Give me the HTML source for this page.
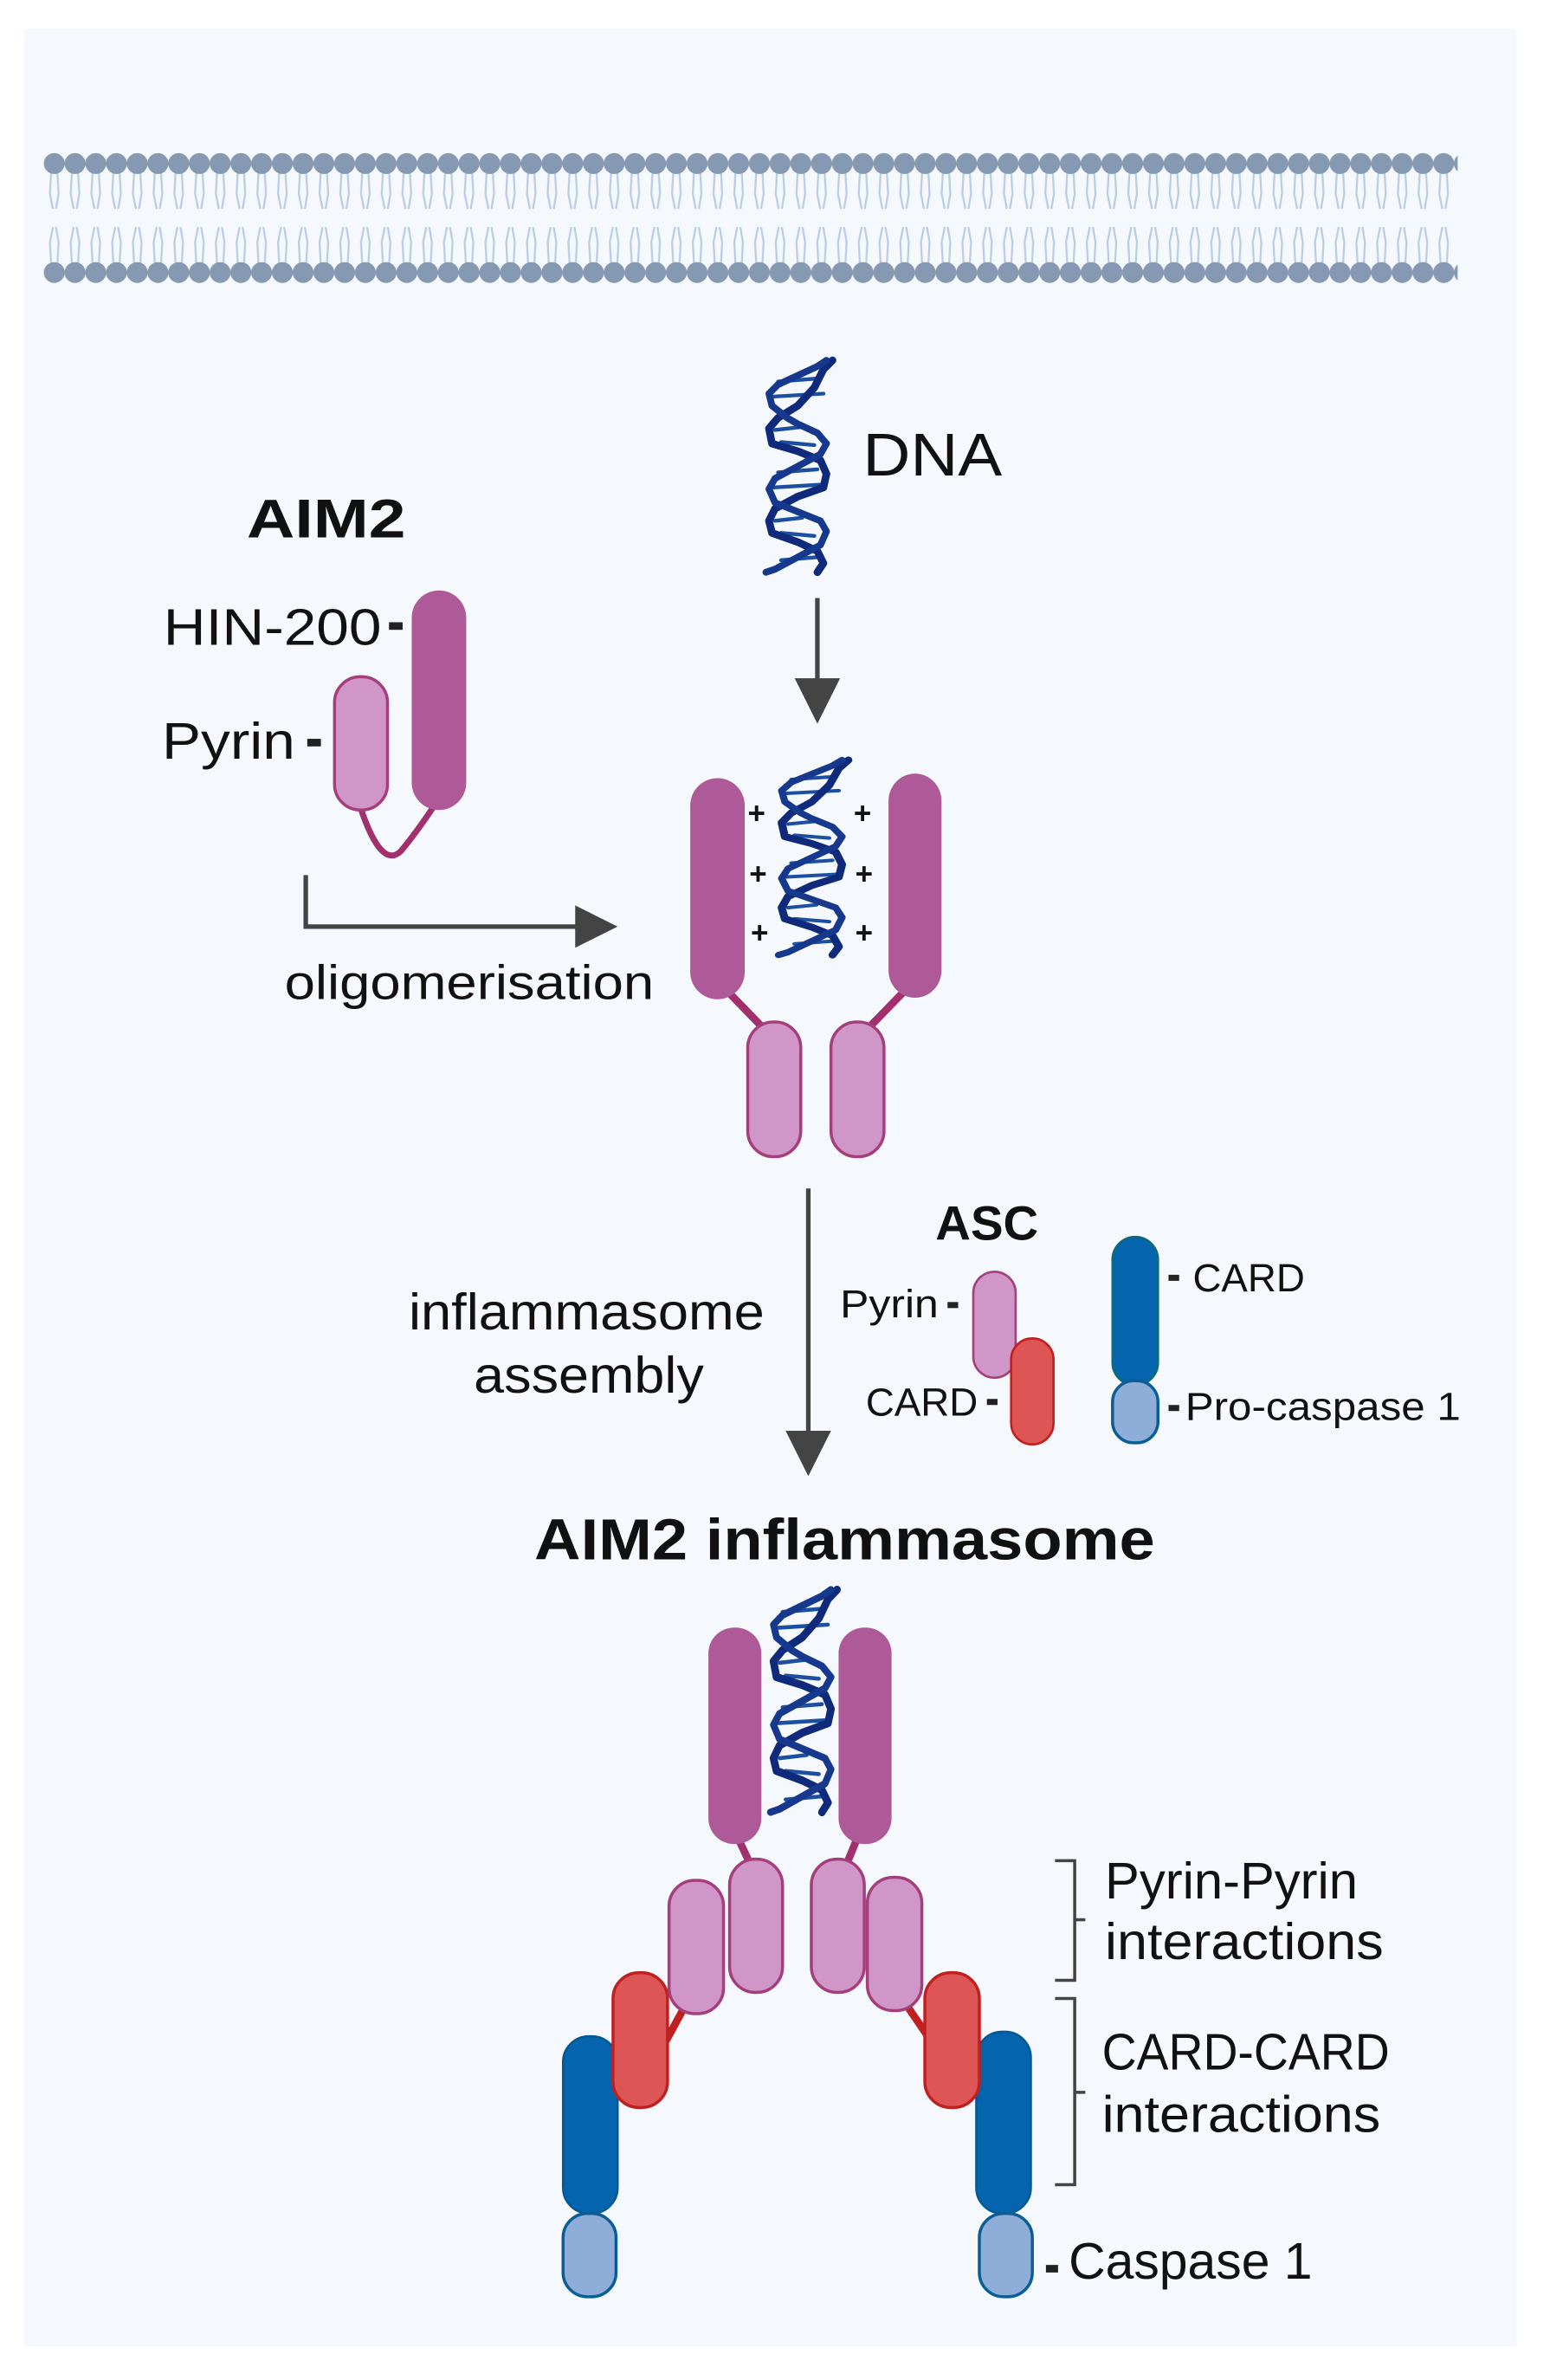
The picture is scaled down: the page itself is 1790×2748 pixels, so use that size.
<!DOCTYPE html>
<html><head><meta charset="utf-8"><style>
html,body{margin:0;padding:0;background:#fff}
svg{display:block}
text{font-family:"Liberation Sans",sans-serif;fill:#111}
</style></head><body>
<svg width="1790" height="2748" viewBox="0 0 1024 1572" preserveAspectRatio="none" xmlns="http://www.w3.org/2000/svg">
<defs>
<pattern id="mem" x="29" y="0" width="13.7" height="1572" patternUnits="userSpaceOnUse">
<g stroke="#b9cde6" stroke-width="1.3" fill="none">
<path d="M5,110 L4,128 L6,138 M8.7,110 L9.7,128 L8,138"/>
<path d="M5,178 L4,160 L6,150 M8.7,178 L9.7,160 L8,150"/>
</g>
<circle cx="6.85" cy="108" r="6.9" fill="#8599b2"/>
<circle cx="6.85" cy="180" r="6.9" fill="#8599b2"/>
</pattern>
<g id="dna">
<g fill="none" stroke-linecap="round" stroke-linejoin="round">
<g stroke="#1d4fa0" stroke-width="2.5">
<line x1="40" y1="12" x2="14" y2="14"/><line x1="44" y1="22" x2="10" y2="24"/>
<line x1="30" y1="44" x2="12" y2="46"/><line x1="38" y1="56" x2="16" y2="54"/>
<line x1="40" y1="72" x2="14" y2="74"/><line x1="44" y1="82" x2="10" y2="84"/>
<line x1="30" y1="104" x2="12" y2="106"/><line x1="38" y1="116" x2="16" y2="114"/>
<line x1="40" y1="130" x2="16" y2="132"/>
</g>
<polyline stroke="#0f2a7a" stroke-width="5" points="50,0 44,6 38,18 27,30 14,38 8,45 10,55 27,60 42,66 46,75 44,84 27,90 12,98 8,106 10,114 27,120 40,126 44,134 40,140"/>
<polyline stroke="#16398e" stroke-width="4.5" points="46,0 40,4 27,10 14,16 8,22 10,30 20,38 27,42 40,48 46,55 42,62 27,70 12,78 8,85 12,94 27,100 42,106 46,113 42,122 27,130 12,138 6,140"/>
</g>
</g>
</defs>
<rect x="0" y="0" width="1024" height="1572" fill="#fff"/>
<rect x="16" y="19" width="986" height="1531" fill="#f5f8fc"/>
<rect x="29" y="95" width="934" height="100" fill="url(#mem)"/>

<use href="#dna" transform="translate(500,238)"/>
<text x="570" y="314" font-size="40" textLength="92" lengthAdjust="spacingAndGlyphs">DNA</text>
<line x1="540" y1="395" x2="540" y2="450" stroke="#444" stroke-width="3"/>
<polygon points="525,448 555,448 540,478" fill="#444"/>

<text x="163" y="355" font-size="36" font-weight="bold" textLength="105" lengthAdjust="spacingAndGlyphs">AIM2</text>
<text x="108" y="426" font-size="34" textLength="144" lengthAdjust="spacingAndGlyphs">HIN-200</text>
<rect x="257" y="411" width="9" height="5" fill="#222"/>
<text x="107" y="501" font-size="34" textLength="88" lengthAdjust="spacingAndGlyphs">Pyrin</text>
<rect x="203" y="488" width="9" height="5" fill="#222"/>
<path d="M238,533 Q252,575 265,562 Q275,550 287,532" fill="none" stroke="#a3306e" stroke-width="4"/>
<rect x="272" y="390" width="36" height="145" rx="18" fill="#ae5a98"/>
<rect x="221" y="447" width="35" height="88" rx="17" fill="#d196c8" stroke="#a43f7c" stroke-width="2"/>

<polyline points="202,578 202,612 385,612" fill="none" stroke="#444" stroke-width="3"/>
<polygon points="380,598 408,612 380,626" fill="#444"/>
<text x="188" y="660" font-size="32" textLength="244" lengthAdjust="spacingAndGlyphs">oligomerisation</text>

<line x1="478" y1="652" x2="510" y2="685" stroke="#a3306e" stroke-width="5"/>
<line x1="600" y1="652" x2="568" y2="685" stroke="#a3306e" stroke-width="5"/>
<rect x="456" y="514" width="36" height="146" rx="18" fill="#ae5a98"/>
<rect x="587" y="511" width="35" height="148" rx="18" fill="#ae5a98"/>
<rect x="494" y="675" width="35" height="89" rx="17" fill="#d196c8" stroke="#a43f7c" stroke-width="2"/>
<rect x="549" y="675" width="35" height="89" rx="17" fill="#d196c8" stroke="#a43f7c" stroke-width="2"/>
<use href="#dna" transform="translate(508,502) scale(1.05,0.92)"/>
<g font-size="20" font-weight="bold">
<text x="494" y="544">+</text><text x="495" y="584">+</text><text x="496" y="623">+</text>
<text x="564" y="544">+</text><text x="565" y="584">+</text><text x="565" y="623">+</text>
</g>

<line x1="534" y1="785" x2="534" y2="948" stroke="#444" stroke-width="3"/>
<polygon points="519,945 549,945 534,975" fill="#444"/>
<text x="270" y="878" font-size="34" textLength="235" lengthAdjust="spacingAndGlyphs">inflammasome</text>
<text x="313" y="920" font-size="34" textLength="152" lengthAdjust="spacingAndGlyphs">assembly</text>

<text x="618" y="819" font-size="32" font-weight="bold" textLength="68" lengthAdjust="spacingAndGlyphs">ASC</text>
<text x="555" y="870" font-size="26" textLength="65" lengthAdjust="spacingAndGlyphs">Pyrin</text>
<rect x="626" y="860" width="7" height="4" fill="#222"/>
<text x="572" y="935" font-size="26" textLength="74" lengthAdjust="spacingAndGlyphs">CARD</text>
<rect x="652" y="924" width="7" height="4" fill="#222"/>
<rect x="643" y="840" width="28" height="70" rx="14" fill="#d196c8" stroke="#a43f7c" stroke-width="1.5"/>
<rect x="668" y="884" width="28" height="70" rx="14" fill="#de5555" stroke="#c0201f" stroke-width="1.5"/>
<rect x="735" y="817" width="30" height="98" rx="15" fill="#0464ad" stroke="#0b6a7a" stroke-width="1.5"/>
<rect x="735" y="912" width="30" height="41" rx="14" fill="#8fadd9" stroke="#0b5e93" stroke-width="2"/>
<rect x="772" y="842" width="7" height="4" fill="#222"/>
<text x="788" y="853" font-size="26" textLength="74" lengthAdjust="spacingAndGlyphs">CARD</text>
<rect x="772" y="928" width="7" height="4" fill="#222"/>
<text x="783" y="938" font-size="26" textLength="182" lengthAdjust="spacingAndGlyphs">Pro-caspase 1</text>

<text x="353" y="1030" font-size="38" font-weight="bold" textLength="410" lengthAdjust="spacingAndGlyphs">AIM2 inflammasome</text>
<line x1="488" y1="1215" x2="496" y2="1232" stroke="#a3306e" stroke-width="5"/>
<line x1="566" y1="1215" x2="559" y2="1232" stroke="#a3306e" stroke-width="5"/>
<line x1="452" y1="1326" x2="440" y2="1348" stroke="#c0201f" stroke-width="5"/>
<line x1="600" y1="1326" x2="613" y2="1345" stroke="#c0201f" stroke-width="5"/>
<rect x="468" y="1075" width="35" height="143" rx="17" fill="#ae5a98"/>
<rect x="554" y="1075" width="35" height="143" rx="17" fill="#ae5a98"/>
<use href="#dna" transform="translate(503,1050) scale(1,1.05)"/>
<rect x="372" y="1345" width="36" height="117" rx="17" fill="#0464ad" stroke="#005a94" stroke-width="1.5"/>
<rect x="372" y="1462" width="35" height="55" rx="16" fill="#8fadd9" stroke="#0b5e93" stroke-width="2"/>
<rect x="645" y="1342" width="36" height="120" rx="17" fill="#0464ad" stroke="#005a94" stroke-width="1.5"/>
<rect x="647" y="1462" width="35" height="55" rx="16" fill="#8fadd9" stroke="#0b5e93" stroke-width="2"/>
<rect x="405" y="1303" width="36" height="89" rx="17" fill="#de5555" stroke="#c0201f" stroke-width="2"/>
<rect x="611" y="1303" width="36" height="89" rx="17" fill="#de5555" stroke="#c0201f" stroke-width="2"/>
<rect x="442" y="1242" width="36" height="88" rx="17" fill="#d196c8" stroke="#a43f7c" stroke-width="2"/>
<rect x="482" y="1228" width="35" height="88" rx="17" fill="#d196c8" stroke="#a43f7c" stroke-width="2"/>
<rect x="536" y="1228" width="35" height="88" rx="17" fill="#d196c8" stroke="#a43f7c" stroke-width="2"/>
<rect x="573" y="1240" width="36" height="88" rx="17" fill="#d196c8" stroke="#a43f7c" stroke-width="2"/>

<g fill="none" stroke="#444" stroke-width="2">
<polyline points="697,1229 710,1229 710,1308 697,1308"/><line x1="710" y1="1268" x2="717" y2="1268"/>
<polyline points="697,1320 710,1320 710,1443 697,1443"/><line x1="710" y1="1382" x2="717" y2="1382"/>
</g>
<text x="730" y="1254" font-size="34" textLength="167" lengthAdjust="spacingAndGlyphs">Pyrin-Pyrin</text>
<text x="730" y="1294" font-size="34" textLength="184" lengthAdjust="spacingAndGlyphs">interactions</text>
<text x="728" y="1367" font-size="34" textLength="190" lengthAdjust="spacingAndGlyphs">CARD-CARD</text>
<text x="728" y="1408" font-size="34" textLength="184" lengthAdjust="spacingAndGlyphs">interactions</text>
<rect x="691" y="1496" width="8" height="5" fill="#222"/>
<text x="706" y="1505" font-size="34" textLength="161" lengthAdjust="spacingAndGlyphs">Caspase 1</text>
</svg>
</body></html>
